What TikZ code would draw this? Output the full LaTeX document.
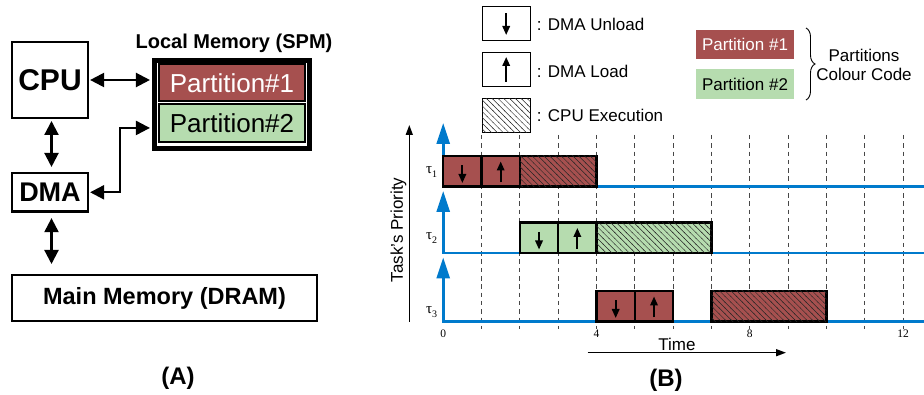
\documentclass[tikz,border=0pt]{standalone}
\usepackage{fontspec}
\setmainfont{Liberation Sans}
\newfontfamily\serifface{Liberation Serif}
\usetikzlibrary{arrows.meta,patterns,decorations.pathreplacing,calc}

\definecolor{pred}{RGB}{166,80,79}
\definecolor{pgreen}{RGB}{182,220,175}
\definecolor{tblue}{RGB}{0,122,204}

\newcommand\fsz[1]{\fontsize{#1}{#1}\selectfont}

% back-slash hatching with a wider spacing than the built-in one
\pgfdeclarepatternformonly{widehatch}{\pgfqpoint{-1pt}{-1pt}}{\pgfqpoint{6.8pt}{6.8pt}}{\pgfqpoint{5.8pt}{5.8pt}}{
  \pgfsetlinewidth{0.45pt}
  \pgfpathmoveto{\pgfqpoint{-0.4pt}{6.2pt}}
  \pgfpathlineto{\pgfqpoint{6.2pt}{-0.4pt}}
  \pgfusepath{stroke}
}

\begin{document}
\begin{tikzpicture}[x=1pt,y=-1pt,
  box/.style={draw, line width=2.2pt, inner sep=0pt},
  part/.style={draw, line width=2pt, inner sep=0pt, minimum width=146pt, font=\fsz{26}},
  biarrow/.style={line width=2.2pt, {Triangle[length=14pt,width=14pt]}-{Triangle[length=14pt,width=14pt]}},
  hatch/.style={postaction={pattern=widehatch, pattern color=black!85}},
  legbox/.style={draw, line width=1pt, minimum width=48pt, minimum height=34pt, inner sep=0pt},
  legtext/.style={anchor=west, inner sep=0pt, font=\fsz{17}},
  smallarrow/.style={line width=1.8pt, -{Triangle[length=9pt,width=7.5pt]}},
  gridline/.style={draw=black!72, line width=0.9pt, dash pattern=on 4.5pt off 3.8pt},
  taskline/.style={draw=tblue, line width=2.7pt, {Triangle[length=21pt,width=13pt]}-},
  cell/.style={draw, line width=2.2pt},
  ticklabel/.style={font=\serifface\fsz{11.5}, inner sep=0pt},
  taulabel/.style={font=\serifface\fsz{15}, anchor=base west, inner sep=0pt},
  axisarrow/.style={line width=1.5pt, -{Triangle[length=10pt,width=7pt]}},
  caption/.style={font=\bfseries\fsz{24}}
]
\useasboundingbox (0,0) rectangle (924,395);

% ---------------- (A) memory hierarchy ----------------
\node[box, minimum width=75.8pt, minimum height=75.8pt, font=\bfseries\fsz{30}] (cpu) at (50,80) {CPU};
\node[box, minimum width=75.8pt, minimum height=38.5pt, font=\bfseries\fsz{27}] (dma) at (50,192.3) {DMA};
\node[box, minimum width=304.8pt, minimum height=45.8pt, font=\bfseries\fsz{23.5}] (dram) at (164.5,298) {Main Memory (DRAM)};
\node[draw, line width=4.5pt, minimum width=155pt, minimum height=88pt, inner sep=0pt] (spm) at (231.9,104.5) {};
\node[part, fill=pred, text=white, minimum height=36.5pt] (p1) at (232,82.75) {Partition\#1};
\node[part, fill=pgreen, minimum height=37.5pt] (p2) at (232,123.25) {Partition\#2};
\node[font=\bfseries\fsz{20}] (spmtitle) at (234,43) {Local Memory (SPM)};

\draw[biarrow, shorten <=1.1pt, shorten >=2.2pt] (cpu.east) -- (cpu.east -| spm.west);
\draw[biarrow, shorten <=2pt, shorten >=5pt] ([xshift=1.5pt]cpu.south) -- ([xshift=1.5pt]dma.north);
\draw[biarrow, shorten <=5.5pt, shorten >=10pt] ([xshift=1.5pt]dma.south) -- ([xshift=1.5pt]dma.south |- dram.north);
\draw[biarrow, shorten <=1.1pt, shorten >=2.2pt] (dma.east) -- ++(31,0) |- ([yshift=-4.7pt]p2.west -| spm.west);

\node[caption] (capA) at (178,378) {(A)};

% ---------------- (B) legend ----------------
\node[legbox] (lu) at (506.2,23.5) {};
\node[legbox] (ll) at (506.2,70) {};
\node[legbox, hatch] (lc) at (506.2,115.5) {};
\draw[smallarrow] ($(lu.center)+(0,-10.2)$) -- ($(lu.center)+(0,11.5)$);
\draw[smallarrow] ($(ll.center)+(0,12)$) -- ($(ll.center)+(0,-13)$);
\node[legtext] (tu) at (536.7,24) {: DMA Unload};
\node[legtext] (tl) at (536.7,71) {: DMA Load};
\node[legtext] (tc) at (536.7,115) {: CPU Execution};

\node[fill=pred, text=white, minimum width=98.6pt, minimum height=29pt, inner sep=0pt, font=\fsz{17}] (lp1) at (745,44.5) {Partition \#1};
\node[fill=pgreen, minimum width=98.6pt, minimum height=30pt, inner sep=0pt, font=\fsz{17}] (lp2) at (745,84) {Partition \#2};
\draw[decorate, decoration={brace, amplitude=9pt}, line width=0.9pt] (806,28) -- (806,100);
\node[font=\fontsize{17}{19}\selectfont, align=center] (code) at (864,64.5) {Partitions\\Colour Code};

% ---------------- (B) schedule ----------------
\coordinate (ybot) at (409.3,321.7);
\coordinate (ytop) at (409.3,125);
\draw[axisarrow] (ybot) -- (ytop);
\node[rotate=90, font=\fsz{17}] (prio) at (398.5,230) {Task's Priority};

\begin{scope}[shift={(443.2,0)}, x=38.33pt]
  \foreach \t in {1,...,12} \draw[gridline] (\t,135) -- (\t,329);
  \draw[taskline] (0,123) -- (0,186.5) -- (12.6,186.5);
  \draw[taskline] (0,191) -- (0,253) -- (12.6,253);
  \draw[taskline] (0,257.5) -- (0,321.5) -- (12.6,321.5);

  % task 1
  \draw[cell, fill=pred] (0,156) rectangle (1,186.5);
  \draw[cell, fill=pred] (1,156) rectangle (2,186.5);
  \draw[cell, fill=pred, hatch] (2,156) rectangle (4,186.5);
  \draw[smallarrow] (0.5,165.5) -- (0.5,183);
  \draw[smallarrow] (1.5,182.5) -- (1.5,161.5);

  % task 2
  \draw[cell, fill=pgreen] (2,222.5) rectangle (3,253);
  \draw[cell, fill=pgreen] (3,222.5) rectangle (4,253);
  \draw[cell, fill=pgreen, hatch] (4,222.5) rectangle (7,253);
  \draw[smallarrow] (2.5,232) -- (2.5,249.5);
  \draw[smallarrow] (3.5,249) -- (3.5,228);

  % task 3
  \draw[cell, fill=pred] (4,291) rectangle (5,321.5);
  \draw[cell, fill=pred] (5,291) rectangle (6,321.5);
  \draw[cell, fill=pred, hatch] (7,291) rectangle (10,321.5);
  \draw[smallarrow] (4.5,300.5) -- (4.5,318);
  \draw[smallarrow] (5.5,317.5) -- (5.5,296.5);

  \node[ticklabel] (t0) at (0,334) {0};
  \node[ticklabel] (t4) at (4,334) {4};
  \node[ticklabel] (t8) at (8,334) {8};
  \node[ticklabel] (t12) at (12,334) {12};
\end{scope}

\node[taulabel] (tau1) at (426,173.5) {τ\raisebox{-4pt}{\fsz{10}1}};
\node[taulabel] (tau2) at (426,240) {τ\raisebox{-4pt}{\fsz{10}2}};
\node[taulabel] (tau3) at (426,313.5) {τ\raisebox{-4pt}{\fsz{10}3}};

\coordinate (tstart) at (587.7,352.7);
\coordinate (tend) at (786,352.7);
\draw[axisarrow] (tstart) -- (tend);
\node[font=\fsz{17}] (timelbl) at (677,344) {Time};

\node[caption] (capB) at (666,380) {(B)};
\end{tikzpicture}
\end{document}
